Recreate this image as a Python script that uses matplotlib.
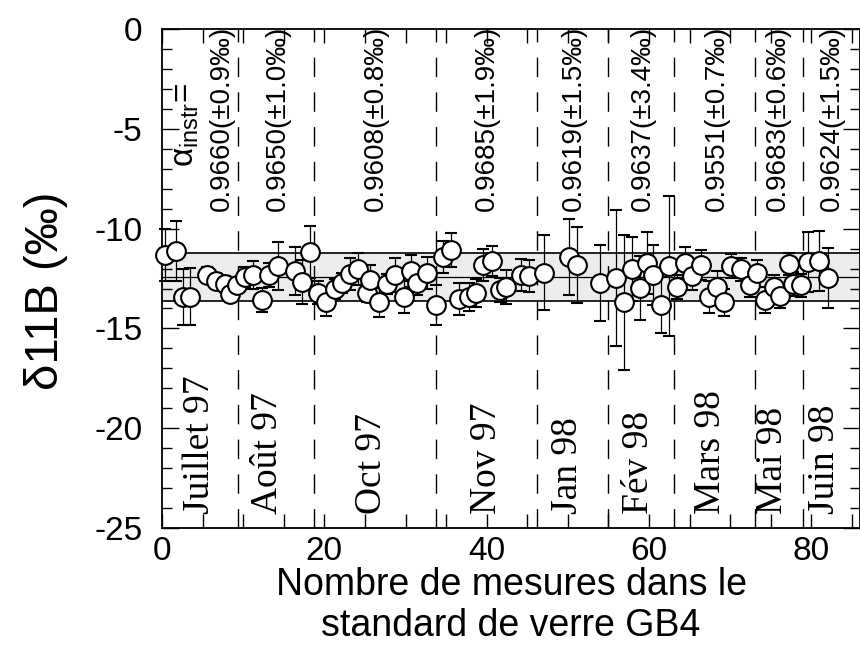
import matplotlib
matplotlib.use("Agg")
import matplotlib.pyplot as plt
from matplotlib.ticker import MultipleLocator

plt.rcParams["font.family"] = ["Liberation Sans", "DejaVu Sans"]
plt.rcParams["axes.unicode_minus"] = False
plt.rcParams["mathtext.default"] = "regular"

# mesures du standard GB4 (numero, delta11B, erreur)
mesure = [0.4, 1.7, 2.6, 3.5, 5.6, 6.7, 7.75, 8.4, 9.25, 10.2, 11.2, 12.3, 13.2,
          14.3, 16.4, 17.3, 18.2, 19.2, 20.25, 21.3, 22.2, 23.1, 24.1, 25.2,
          25.6, 26.7, 27.7, 28.7, 29.8, 30.7, 31.4, 32.6, 33.7, 34.6, 35.6,
          36.6, 37.8, 38.7, 39.5, 40.6, 41.7, 42.4, 44.2, 45.2, 47.1, 50.1,
          51.1, 54.0, 55.9, 56.9, 57.9, 58.9, 59.8, 60.5, 61.5, 62.5, 63.5,
          64.4, 65.3, 66.4, 67.4, 68.4, 69.3, 70.1, 71.3, 72.4, 73.3, 74.3,
          75.4, 76.1, 77.2, 77.7, 78.7, 79.6, 80.9, 82.0]
d11b = [-11.32, -11.1, -13.44, -13.4, -12.32, -12.6, -12.78, -13.28, -12.83,
        -12.4, -12.3, -13.58, -12.32, -11.87, -12.1, -12.66, -11.15, -13.2,
        -13.7, -13.04, -12.74, -12.29, -12.04, -13.2, -12.57, -13.7, -12.78,
        -12.32, -13.44, -12.1, -12.7, -12.24, -13.83, -11.44, -11.07, -13.54,
        -13.44, -13.24, -11.82, -11.6, -13.08, -12.94, -12.32, -12.37, -12.2,
        -11.44, -11.82, -12.74, -12.49, -13.7, -12.04, -12.99, -11.7, -12.32,
        -13.83, -11.87, -12.9, -11.7, -12.37, -11.82, -13.41, -12.9, -13.7,
        -11.87, -12.04, -12.83, -12.24, -13.58, -12.9, -13.38, -11.77, -12.78,
        -12.83, -11.66, -11.6, -12.49]
err = [1.3, 1.5, 1.4, 1.45, 0.4, 0.4, 0.4, 0.4, 0.4, 0.5, 0.7, 0.6, 0.6, 1.2,
       1.2, 1.1, 1.3, 0.6, 0.7, 0.5, 0.5, 0.8, 0.8, 0.5, 0.75, 0.75, 0.5,
       0.85, 0.8, 0.8, 0.6, 0.8, 1.0, 0.8, 0.85, 0.8, 0.7, 0.7, 0.8, 0.75,
       0.6, 0.85, 0.8, 0.8, 1.9, 1.9, 1.9, 1.9, 3.4, 3.4, 1.6, 1.6, 1.55, 1.5,
       1.4, 3.5, 0.6, 0.8, 0.7, 0.75, 0.8, 0.8, 0.7, 0.6, 0.57, 0.6, 0.67,
       0.67, 0.6, 0.6, 0.57, 0.6, 0.58, 1.5, 1.5, 1.5]

moyenne = -12.4
bande = [-11.2, -13.65]

# limites entre les mois et etiquettes
limites = [9.35, 18.7, 33.8, 46.2, 55.0, 63.1, 73.1, 79.0]
mois = ["Juillet 97", "Août 97", "Oct 97", "Nov 97", "Jan 98", "Fév 98",
        "Mars 98", "Mai 98", "Juin 98"]
mois_x = [4.7, 13.0, 25.8, 40.0, 50.0, 58.8, 67.6, 75.2, 81.7]
alpha = ["0.9660(±0.9‰)", "0.9650(±1.0‰)", "0.9608(±0.8‰)", "0.9685(±1.9‰)",
         "0.9619(±1.5‰)", "0.9637(±3.4‰)", "0.9551(±0.7‰)", "0.9683(±0.6‰)",
         "0.9624(±1.5‰)"]
alpha_x = [7.4, 14.3, 26.4, 40.0, 50.8, 59.3, 68.4, 75.9, 82.5]

fig = plt.figure(figsize=(8.6, 6.61), dpi=100)
ax = fig.add_axes([0.1884, 0.2012, 0.8116, 0.7548])

ax.axhspan(bande[1], bande[0], color="#ececec", lw=0, zorder=0)
for y in bande:
    ax.axhline(y, color="k", lw=1.2, zorder=1)
ax.axhline(moyenne, color="k", lw=0.9, zorder=1)
for x in limites:
    ax.axvline(x, color="k", lw=1.0, dashes=(14, 11), zorder=1)

ax.errorbar(mesure, d11b, yerr=err, fmt="o", ms=13.5, mfc="white", mec="k",
            mew=1.5, ecolor="k", elinewidth=0.9, capsize=4, capthick=0.9,
            zorder=3, clip_on=False)

for x, t in zip(alpha_x, alpha):
    ax.text(x, -9.1, t, rotation=90, ha="center", va="bottom", fontsize=20)
ax.text(2.85, -6.9, r"$\alpha_{instr}$=", rotation=90, ha="center",
        va="bottom", fontsize=24)
for x, t in zip(mois_x, mois):
    ax.text(x, -24.3, t, rotation=90, ha="center", va="bottom", fontsize=27,
            family=["Liberation Serif", "DejaVu Serif"])

ax.set_xlim(0, 86)
ax.set_ylim(-25, 0)
ax.xaxis.set_major_locator(MultipleLocator(20))
ax.xaxis.set_minor_locator(MultipleLocator(5))
ax.yaxis.set_major_locator(MultipleLocator(5))
ax.yaxis.set_minor_locator(MultipleLocator(1))
ax.tick_params(which="both", direction="in", top=True, right=True,
               labelsize=24, width=1.0)
ax.tick_params(axis="y", which="major", length=12, pad=14)
ax.tick_params(axis="y", which="minor", length=7)
ax.tick_params(axis="x", which="major", length=10, pad=6)
ax.tick_params(axis="x", which="minor", length=10)
for s in ax.spines.values():
    s.set_linewidth(1.3)

ax.set_ylabel("δ11B (‰)", fontsize=34)
ax.yaxis.set_label_coords(-0.135, 0.476)
ax.set_xlabel("Nombre de mesures dans le\nstandard de verre GB4", fontsize=27,
              labelpad=0, linespacing=1.15)

plt.savefig("out.png", dpi=100)
